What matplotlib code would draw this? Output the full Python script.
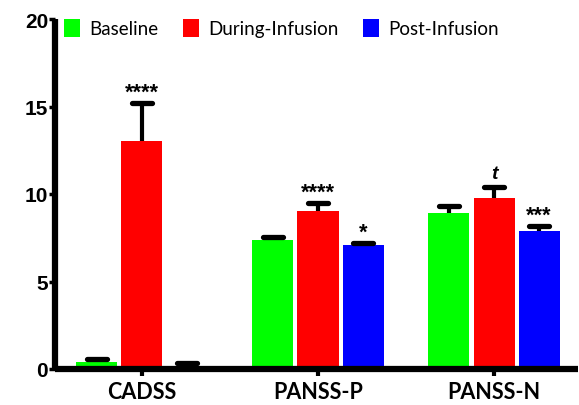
import matplotlib.pyplot as plt
import numpy as np
from matplotlib.patches import Patch

# values
groups = ['CADSS', 'PANSS-P', 'PANSS-N']
series = ['Baseline', 'During-Infusion', 'Post-Infusion']
colors = ['#00ff00', '#ff0000', '#0000ff']
means = [
    [0.40, 7.39, 8.91],   # Baseline
    [13.02, 9.03, 9.75],  # During-Infusion
    [0.20, 7.07, 7.89],   # Post-Infusion
]
sem = [
    [0.20, 0.16, 0.42],
    [2.20, 0.47, 0.63],
    [0.15, 0.13, 0.31],
]
stars = [
    ['', '', ''],
    ['****', '****', 't'],
    ['', '*', '***'],
]

W, H = 579, 406
fig = plt.figure(figsize=(W / 100, H / 100), dpi=100)
ax = fig.add_axes([55 / W, 36 / H, (578 - 55) / W, (370 - 20) / H])

x = np.arange(len(groups))
pitch = 0.256
width = 0.233
for i, (name, col) in enumerate(zip(series, colors)):
    xs = x + (i - 1) * pitch
    tops = np.array(means[i])
    errs = np.array(sem[i])
    ax.bar(xs, tops, width, color=col, zorder=2)
    ax.vlines(xs, tops, tops + errs, colors='black', lw=3, zorder=3)
    ax.hlines(tops + errs, xs - 0.055, xs + 0.055, colors='black', lw=3.8,
              capstyle='round', zorder=3)
    for xx, yy, s in zip(xs, tops + errs, stars[i]):
        if not s:
            continue
        if s == 't':
            ax.annotate(s, (xx, yy), xytext=(0, 4), textcoords='offset points',
                        ha='center', va='bottom', fontsize=14, fontweight='bold',
                        style='italic', family='Liberation Sans')
        else:
            ax.annotate(s, (xx, yy), xytext=(0, 0), textcoords='offset points',
                        ha='center', va='bottom', fontsize=15.5, fontweight='bold',
                        family='Liberation Sans')

ax.set_xlim(-0.494, 2.477)
ax.set_ylim(0, 20)
ax.set_yticks([0, 5, 10, 15, 20])
ax.set_xticks(x)
ax.set_xticklabels(groups, fontsize=15.5, fontweight='bold', family='Lato')
for lab in ax.get_yticklabels():
    lab.set_fontsize(15)
    lab.set_fontweight('bold')
    lab.set_family('Liberation Sans')

for side in ['top', 'right']:
    ax.spines[side].set_visible(False)
for side in ['left', 'bottom']:
    ax.spines[side].set_linewidth(4.5)
    ax.spines[side].set_capstyle('butt')
ax.tick_params(axis='y', length=4, width=2.5, pad=1)
ax.tick_params(axis='x', length=5, width=3, pad=4)

handles = [Patch(facecolor=c, edgecolor='none') for c in colors]
fig.legend(handles, series, loc='center left',
           bbox_to_anchor=(64 / W, 1 - 29 / H), ncol=3, frameon=False,
           borderpad=0, borderaxespad=0, handlelength=0.85, handleheight=1.15,
           handletextpad=0.5, columnspacing=1.3,
           prop={'family': 'Lato', 'size': 13.5})

fig.savefig('out.png', dpi=100)
